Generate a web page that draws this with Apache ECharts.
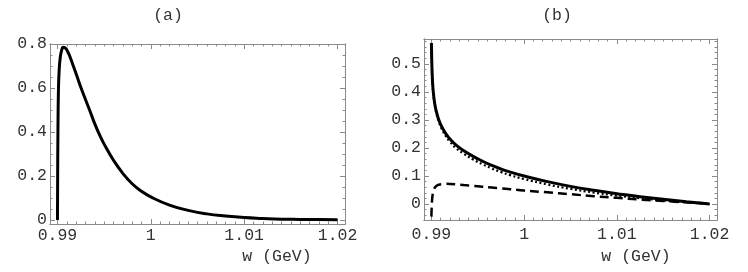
<!DOCTYPE html>
<html>
<head>
<meta charset="utf-8">
<script src="https://cdn.jsdelivr.net/npm/echarts@6/dist/echarts.min.js"></script>
<style>html,body{margin:0;padding:0;background:#fff}#c{width:748px;height:272px}</style>
</head>
<body>
<div id="c"></div>
<script>
// ---- data ----
const panelTitles = ['(a)', '(b)'];
const xAxisTitle = 'w (GeV)';
const xTickLabels = [0.99, 1.0, 1.01, 1.02];
const yTickLabelsA = [0, 0.2, 0.4, 0.6, 0.8];
const yTickLabelsB = [0, 0.1, 0.2, 0.3, 0.4, 0.5];

// panel (a)
const xA = [0.99, 0.99002, 0.99005, 0.9901, 0.99018, 0.9903, 0.99045, 0.9906, 0.9908, 0.9911, 0.9914, 0.9917, 0.9921, 0.9925, 0.993, 0.9935, 0.994, 0.9945, 0.995, 0.996, 0.997, 0.998, 0.999, 1.0, 1.002, 1.004, 1.006, 1.008, 1.01, 1.012, 1.014, 1.016, 1.018, 1.02];
const yA = [0, 0.2, 0.4, 0.58, 0.68, 0.74, 0.772, 0.785, 0.783, 0.765, 0.735, 0.70, 0.652, 0.603, 0.548, 0.493, 0.437, 0.388, 0.345, 0.272, 0.212, 0.165, 0.131, 0.105, 0.068, 0.044, 0.028, 0.018, 0.011, 0.007, 0.004, 0.003, 0.002, 0.001];

// panel (b)
const xB = [0.99, 0.99003, 0.99008, 0.99015, 0.99025, 0.9904, 0.9906, 0.9908, 0.9911, 0.9915, 0.992, 0.9927, 0.9935, 0.9945, 0.9955, 0.9965, 0.9975, 0.9985, 1.0, 1.0025, 1.005, 1.0075, 1.01, 1.0125, 1.015, 1.0175, 1.02];
const ySolidB = [0.575, 0.52, 0.465, 0.42, 0.385, 0.35, 0.322, 0.30, 0.277, 0.254, 0.232, 0.209, 0.19, 0.17, 0.153, 0.138, 0.125, 0.114, 0.10, 0.08, 0.063, 0.049, 0.037, 0.026, 0.017, 0.008, 0.0];
const yDottedB = [0.575, 0.52, 0.463, 0.417, 0.381, 0.345, 0.316, 0.293, 0.269, 0.245, 0.222, 0.198, 0.179, 0.159, 0.142, 0.127, 0.114, 0.103, 0.089, 0.07, 0.054, 0.041, 0.030, 0.021, 0.013, 0.006, 0.0];
const yDashedB = [-0.045, -0.012, 0.018, 0.037, 0.05, 0.06, 0.066, 0.069, 0.071, 0.072, 0.0718, 0.0705, 0.068, 0.065, 0.062, 0.059, 0.056, 0.053, 0.048, 0.042, 0.035, 0.028, 0.022, 0.016, 0.011, 0.006, 0.002];

// ---- helpers ----
function pairs(xs, ys) { return xs.map((x, i) => [x, ys[i]]); }
function fmt(v) { return String(Math.round(v * 100) / 100); }
function minorTicks(lo, hi, step, majors) {
  const out = [];
  const n = Math.round((hi - lo) / step);
  for (let i = 0; i <= n; i++) {
    const v = +(lo + i * step).toFixed(6);
    if (!majors.some(m => Math.abs(m - v) < 1e-9)) out.push(v);
  }
  return out;
}

const FONT = 'Liberation Mono';
const FS = 16.5;
const TXT = '#333';
const FRAME = '#8a8a8a';

const xMin = 0.9892, xMax = 1.0208;
const yRangeA = [-0.018, 0.8];
const yRangeB = [-0.057, 0.589];

const xMinor = minorTicks(0.99, 1.02, 0.001, xTickLabels);
const yMinorA = minorTicks(0, 0.8, 0.05, yTickLabelsA);
const yMinorB = minorTicks(-0.04, 0.58, 0.02, yTickLabelsB);

const grids = [
  { left: 50, top: 44, width: 295, height: 180 },
  { left: 50, top: 44, width: 295, height: 180 },
  { left: 424, top: 39, width: 293, height: 181 },
  { left: 424, top: 39, width: 293, height: 181 }
];

function xAx(gi, pos, ticks, len, labels) {
  return {
    type: 'value', gridIndex: gi, position: pos, min: xMin, max: xMax,
    axisLine: { show: true, onZero: false, lineStyle: { color: FRAME, width: 1 } },
    axisTick: { show: true, inside: true, length: len, customValues: ticks, lineStyle: { color: FRAME, width: 1 } },
    axisLabel: labels ? { show: true, customValues: ticks, formatter: fmt, fontFamily: FONT, fontSize: FS, color: TXT, margin: labels } : { show: false },
    splitLine: { show: false }
  };
}
function yAx(gi, pos, range, ticks, len, labels) {
  return {
    type: 'value', gridIndex: gi, position: pos, min: range[0], max: range[1],
    axisLine: { show: true, onZero: false, lineStyle: { color: FRAME, width: 1 } },
    axisTick: { show: true, inside: true, length: len, customValues: ticks, lineStyle: { color: FRAME, width: 1 } },
    axisLabel: labels ? { show: true, customValues: ticks, formatter: fmt, fontFamily: FONT, fontSize: FS, color: TXT, margin: labels } : { show: false },
    splitLine: { show: false }
  };
}

const xAxes = [
  xAx(0, 'bottom', xTickLabels, 5, 3), xAx(0, 'top', xTickLabels, 5, 0),
  xAx(1, 'bottom', xMinor, 2.5, 0), xAx(1, 'top', xMinor, 2.5, 0),
  xAx(2, 'bottom', xTickLabels, 5, 6), xAx(2, 'top', xTickLabels, 5, 0),
  xAx(3, 'bottom', xMinor, 2.5, 0), xAx(3, 'top', xMinor, 2.5, 0)
];
const yAxes = [
  yAx(0, 'left', yRangeA, yTickLabelsA, 5, 3), yAx(0, 'right', yRangeA, yTickLabelsA, 5, 0),
  yAx(1, 'left', yRangeA, yMinorA, 2.5, 0), yAx(1, 'right', yRangeA, yMinorA, 2.5, 0),
  yAx(2, 'left', yRangeB, yTickLabelsB, 5, 3), yAx(2, 'right', yRangeB, yTickLabelsB, 5, 0),
  yAx(3, 'left', yRangeB, yMinorB, 2.5, 0), yAx(3, 'right', yRangeB, yMinorB, 2.5, 0)
];

const base = { type: 'line', showSymbol: false, symbol: 'none', smooth: 0.5, animation: false, silent: true };

const series = [
  Object.assign({}, base, { xAxisIndex: 0, yAxisIndex: 0, data: pairs(xA, yA), lineStyle: { color: '#000', width: 3 } }),
  Object.assign({}, base, { xAxisIndex: 4, yAxisIndex: 4, data: pairs(xB, yDashedB), lineStyle: { color: '#000', width: 2.5, type: [9, 5] } }),
  Object.assign({}, base, { xAxisIndex: 4, yAxisIndex: 4, data: pairs(xB, yDottedB), lineStyle: { color: '#000', width: 2.2, type: [2, 2.5] } }),
  Object.assign({}, base, { xAxisIndex: 4, yAxisIndex: 4, data: pairs(xB, ySolidB), lineStyle: { color: '#000', width: 3 } })
];

const textStyle = (t, x, y) => ({
  type: 'text', x: x, y: y,
  style: { text: t, fontFamily: FONT, fontSize: FS, fill: TXT, textAlign: 'center', textVerticalAlign: 'middle' }
});

const chart = echarts.init(document.getElementById('c'), null, { renderer: 'canvas' });
chart.setOption({
  animation: false,
  backgroundColor: '#fff',
  grid: grids,
  xAxis: xAxes,
  yAxis: yAxes,
  series: series,
  graphic: [
    textStyle(panelTitles[0], 168, 16),
    textStyle(panelTitles[1], 557, 16),
    textStyle(xAxisTitle, 277, 257),
    textStyle(xAxisTitle, 636, 257)
  ]
});
</script>
</body>
</html>
